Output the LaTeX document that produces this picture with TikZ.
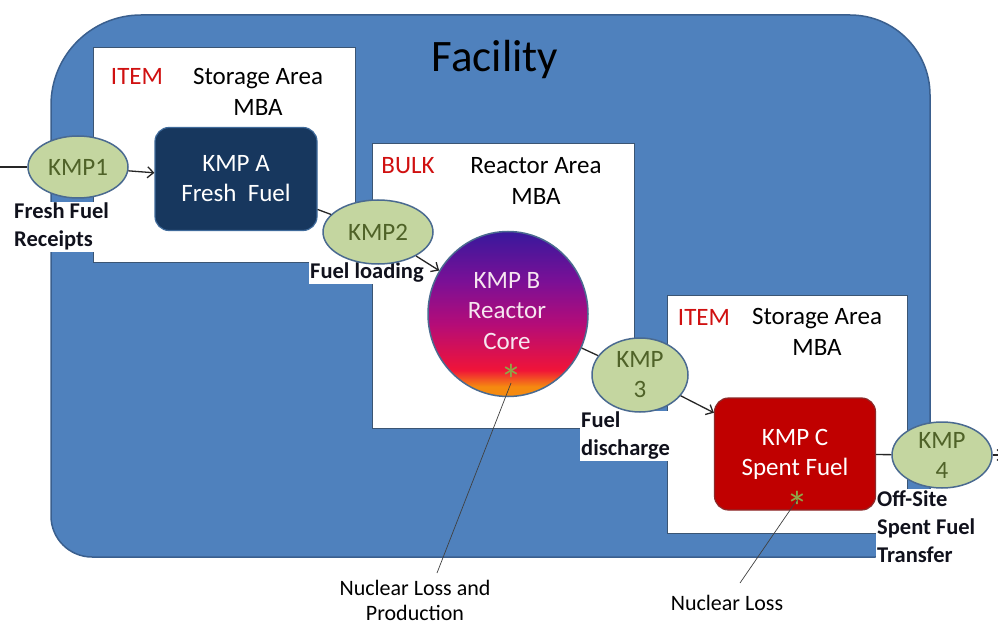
\documentclass[tikz,border=0pt]{standalone}
\usepackage{fontspec}
\setmainfont{Carlito}
\usetikzlibrary{arrows.meta,shapes.geometric}
\definecolor{facfill}{HTML}{4F81BD}
\definecolor{facedge}{HTML}{3A5F8E}
\definecolor{kmpfill}{HTML}{C4D6A0}
\definecolor{kmpedge}{HTML}{4A6A90}
\definecolor{kmptext}{HTML}{4F6228}
\definecolor{navy}{HTML}{17375E}
\definecolor{navyedge}{HTML}{3F6A9A}
\definecolor{spent}{HTML}{C00000}
\definecolor{spentedge}{HTML}{8C2A2A}
\definecolor{itemred}{HTML}{D01010}
\definecolor{astgreen}{HTML}{8FA648}
\definecolor{coretext}{HTML}{F6E6F0}
\definecolor{labeltext}{HTML}{10111C}
\definecolor{cOrange}{HTML}{F58A10}
\definecolor{cRed}{HTML}{F01438}
\definecolor{cMag}{HTML}{B40C78}
\definecolor{cPurp}{HTML}{7A1096}
\definecolor{cBlue}{HTML}{38189C}
\pgfdeclareverticalshading{coreshade}{100bp}{color(0bp)=(cOrange); color(25bp)=(cOrange); color(28bp)=(cOrange); color(33bp)=(cRed); color(47bp)=(cMag); color(60bp)=(cPurp); color(75bp)=(cBlue); color(100bp)=(cBlue)}
\tikzset{
  x=1pt,y=-1pt,
  lbl/.style={font=\fontsize{25}{31}\selectfont, align=center, inner sep=0pt},
  redlbl/.style={lbl, text=itemred},
  mba/.style={draw=kmpedge!80!black, line width=0.8pt, fill=white},
  kmp/.style={ellipse, draw=kmpedge, line width=1.5pt, fill=kmpfill, text=kmptext,
    font=\fontsize{25}{30}\selectfont, align=center, inner sep=0pt},
  blab/.style={font=\bfseries\fontsize{22.5}{28}\selectfont, align=left, fill=white, inner sep=1pt, text=labeltext},
  conn/.style={line width=1.3pt, black!85},
  arr/.style={conn, -{Straight Barb[length=6pt,width=11pt,line width=1.3pt]}},
  note/.style={font=\fontsize{22}{25}\selectfont, align=center, inner sep=0pt},
  noteline/.style={line width=0.7pt, black!75},
  ast/.style={text=astgreen, font=\fontsize{44}{44}\selectfont, inner sep=0pt}
}
\begin{document}
\begin{tikzpicture}
\useasboundingbox (0,0) rectangle (998,628);
% facility
\draw[fill=facfill, draw=facedge, line width=1.5pt]
  (51,105) arc[start angle=180, end angle=270, radius=90] -- (850,15)
  arc[start angle=270, end angle=360, radius=80] -- (930,502)
  arc[start angle=0, end angle=90, radius=55] -- (92,557)
  arc[start angle=90, end angle=180, radius=41] -- cycle;
\node[font=\fontsize{45}{50}\selectfont] (fac) at (495,60) {Facility};
% MBA boxes
\draw[mba] (93,47) rectangle (355,262);
\draw[mba] (372,143) rectangle (634,428);
\draw[mba] (667,295) rectangle (907,533);
\node[redlbl] (item1) at (137,76) {ITEM};
\node[lbl] (sa1) at (258,92) {Storage Area\\MBA};
\node[redlbl] (bulk) at (408,166) {BULK};
\node[lbl] (ra) at (536,181) {Reactor Area\\MBA};
\node[redlbl] (item2) at (704,317) {ITEM};
\node[lbl] (sa2) at (817,332) {Storage Area\\MBA};
% labels
\node[blab, anchor=north west] (ffr) at (13,202) {Fresh Fuel\\Receipts};
\node[blab, anchor=north west] (fl) at (309,262) {Fuel loading};
\node[blab, anchor=north west] (fd) at (580,411) {Fuel\\discharge};
\node[blab, anchor=north west] (off) at (876,489) {Off-Site\\Spent Fuel\\Transfer};
% KMP nodes
\node[kmp, minimum width=100pt, minimum height=62pt] (kmp1) at (78,167) {KMP1};
\node[draw=navyedge, line width=1.2pt, fill=navy, rounded corners=14pt, minimum width=162pt, minimum height=103pt, text=white, font=\fontsize{25}{30}\selectfont, align=center, inner sep=0pt] (kmpA) at (236,179) {KMP A\\Fresh~~Fuel};
\node[kmp, minimum width=110pt, minimum height=64pt] (kmp2) at (378,232) {KMP2};
\node[ellipse, draw=kmpedge, line width=1.5pt, shading=coreshade, minimum width=160pt, minimum height=165pt, inner sep=0pt] (kmpB) at (508,314) {};
\node[text=coretext, font=\fontsize{25}{30.5}\selectfont, align=center, inner sep=0pt] (kmpBt) at (507,311) {KMP B\\Reactor\\Core};
\node[kmp, minimum width=96pt, minimum height=74pt] (kmp3) at (640,375) {KMP\\3};
\node[draw=spentedge, line width=1.2pt, fill=spent, rounded corners=14pt, minimum width=161pt, minimum height=112pt, text=white, font=\fontsize{25}{30}\selectfont, align=center, inner sep=0pt] (kmpC) at (795,454) {KMP C\\Spent Fuel};
\node[kmp, minimum width=100pt, minimum height=66pt] (kmp4) at (942,455) {KMP\\4};
% asterisks
\node[ast] (astB) at (511,380) {*};
\node[ast] (astC) at (797,507) {*};
% connectors
\coordinate (inL) at (0,167);
\coordinate (outR) at (1004,455);
\draw[conn] (inL) -- (kmp1);
\draw[arr] (kmp1) -- (kmpA);
\draw[conn] (kmpA) -- (kmp2);
\draw[arr] (kmp2) -- (kmpB);
\draw[conn] (kmpB) -- (kmp3);
\draw[arr] (kmp3) -- (kmpC);
\draw[conn] (kmpC) -- (kmp4);
\draw[arr] (kmp4) -- (outR);
% notes
\node[note, anchor=north] (nlp) at (415,580) {Nuclear Loss and\\Production};
\node[note] (nl) at (727,603) {Nuclear Loss};
\draw[noteline] (437,573) coordinate (nlpTop) -- (511,383) coordinate (astBfoot);
\draw[noteline] (740,583) coordinate (nlTop) -- (797,500) coordinate (astCfoot);
\end{tikzpicture}
\end{document}
